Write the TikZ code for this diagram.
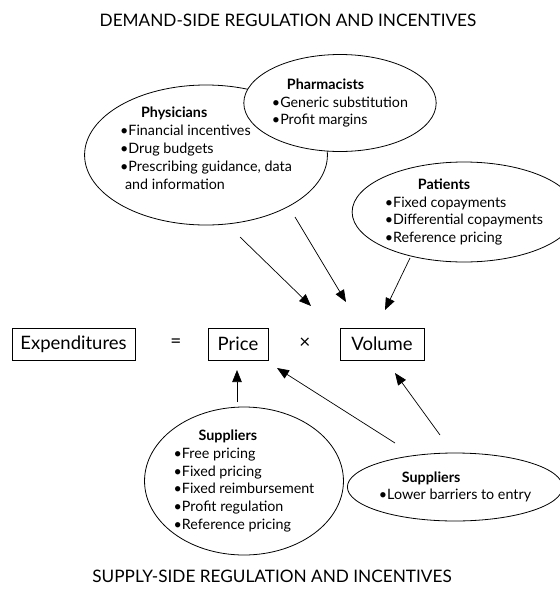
\documentclass[tikz,border=0pt]{standalone}
\usepackage{fontspec}
\setmainfont{Lato}
\usetikzlibrary{positioning,arrows.meta,shapes.geometric}

\begin{document}
\begin{tikzpicture}[
  x=1pt, y=-1pt,
  font=\fontsize{14.3}{17.8}\selectfont,
  oval/.style={draw, ellipse, fill=white, line width=0.8pt, align=left, inner sep=0pt},
  term/.style={draw, line width=0.8pt, minimum height=32pt, inner sep=0pt, font=\fontsize{18.5}{20}\selectfont},
  op/.style={font=\fontsize{19}{20}\selectfont},
  head/.style={font=\fontsize{17.2}{19}\selectfont},
  arr/.style={-{Triangle[length=12pt,width=9.5pt]}, line width=0.7pt}
]
\useasboundingbox (0,0) rectangle (560,590);
% Titles
\node[head] (demand) at (288,20) {DEMAND-SIDE REGULATION AND INCENTIVES};
\node[head] (supply) at (272,576) {SUPPLY-SIDE REGULATION AND INCENTIVES};
% Demand side
\node[oval, minimum width=208pt, minimum height=140pt] (physicians) at (206,155)
  {\hspace*{21pt}\textbf{Physicians}\\ \textbullet Financial incentives\\ \textbullet Drug budgets\\ \textbullet Prescribing guidance, data\\ \hspace*{5pt}and information\\[-4pt]};
\node[oval, minimum width=180pt, minimum height=97pt] (pharmacists) at (340,103)
  {\hspace*{15pt}\textbf{Pharmacists}\\ \textbullet Generic substitution\\ \textbullet Profit margins};
\node[oval, minimum width=184pt, minimum height=100pt] (patients) at (464,212)
  {\hspace*{33pt}\textbf{Patients}\\ \textbullet Fixed copayments\\ \textbullet Differential copayments\\ \textbullet Reference pricing};
% Equation
\node[term, minimum width=123pt] (expend) at (73.5,344) {Expenditures};
\node[op] (eq) at (176,343) {=};
\node[term, minimum width=60pt] (price) at (238,344) {Price};
\node[op] (times) at (305,343) {×};
\node[term, minimum width=84pt] (volume) at (382,344) {Volume};
% Supply side
\node[oval, minimum width=192pt, minimum height=148pt] (suppliersA) at (244,481)
  {\hspace*{25pt}\textbf{Suppliers}\\ \textbullet Free pricing\\ \textbullet Fixed pricing\\ \textbullet Fixed reimbursement\\ \textbullet Profit regulation\\ \textbullet Reference pricing};
\node[oval, minimum width=204pt, minimum height=68pt] (suppliersB) at (455,487)
  {\hspace*{23pt}\textbf{Suppliers}\\ \textbullet Lower barriers to entry};
% Arrow ends
\coordinate (phyOut) at (240,237);
\coordinate (phaOut) at (295,217);
\coordinate (patOut) at (410,258);
\coordinate (timesIn) at (311,306);
\coordinate (volIn) at (346,302);
\coordinate (volInB) at (385,310);
\coordinate (supOut) at (237,402);
\coordinate (priceIn) at (237,370);
\coordinate (supBOutA) at (395,443);
\coordinate (priceInB) at (277,368);
\coordinate (supBOutB) at (440,435);
\coordinate (volBelow) at (395,373);
\draw[arr] (phyOut) -- (timesIn);
\draw[arr] (phaOut) -- (volIn);
\draw[arr] (patOut) -- (volInB);
\draw[arr] (supOut) -- (priceIn);
\draw[arr] (supBOutA) -- (priceInB);
\draw[arr] (supBOutB) -- (volBelow);
\end{tikzpicture}
\end{document}
